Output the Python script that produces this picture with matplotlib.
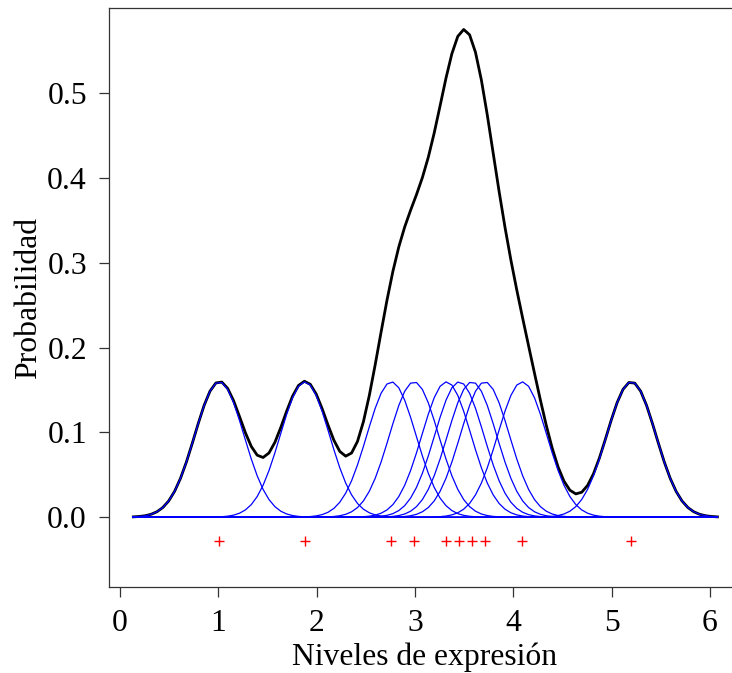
import numpy as np
import matplotlib
matplotlib.use("Agg")
import matplotlib.pyplot as plt

# Observed expression levels
niveles = [1.01, 1.88, 2.76, 2.99, 3.32, 3.45, 3.58, 3.71, 4.09, 5.20]
ancho_banda = 0.25          # Gaussian kernel standard deviation
corte = 3.5                 # grid extends this many bandwidths past the data
n_grid = 100

y_marcas = -0.028           # height at which the observations are marked
x_ticks = [0, 1, 2, 3, 4, 5, 6]
y_ticks = [0.0, 0.1, 0.2, 0.3, 0.4, 0.5]

plt.rcParams["font.family"] = ["Liberation Serif", "DejaVu Serif"]
FS = 22.8

x = np.array(niveles)
n = len(x)
grid = np.linspace(x.min() - corte * ancho_banda, x.max() + corte * ancho_banda, n_grid)


def kernel(centro):
    z = (grid - centro) / ancho_banda
    return np.exp(-0.5 * z ** 2) / (n * ancho_banda * np.sqrt(2 * np.pi))


kernels = [kernel(c) for c in x]
densidad = np.sum(kernels, axis=0)

W, H, DPI = 732, 673, 100
fig = plt.figure(figsize=(W / DPI, H / DPI), dpi=DPI)
left, right = 109.4, 740.3
top, bottom = 8.3, 586.7
ax = fig.add_axes([left / W, 1 - bottom / H, (right - left) / W, (bottom - top) / H])

ax.plot(grid, densidad, color="black", lw=2.0, zorder=2)
for k in kernels:
    ax.plot(grid, k, color="blue", lw=0.9, zorder=3)
ax.plot(x, np.full(n, y_marcas), ls="none", marker="+", color="red",
        markersize=7.5, markeredgewidth=1.0, zorder=4)

ax.set_xlim(-0.108, 6.308)
ax.set_ylim(-0.082, 0.600)
ax.set_xticks(x_ticks)
ax.set_xticklabels([str(t) for t in x_ticks])
ax.set_yticks(y_ticks)
ax.set_yticklabels([f"{t:.1f}" for t in y_ticks])
ax.tick_params(direction="out", length=7.2, width=0.9, labelsize=FS, pad=9,
               color="#333333")
ax.tick_params(axis="y", pad=9)
for s in ax.spines.values():
    s.set_linewidth(0.9)
    s.set_color("#333333")

ax.set_xlabel("Niveles de expresión", fontsize=FS, labelpad=3)
ax.set_ylabel("Probabilidad", fontsize=FS, labelpad=3)

fig.savefig("out.png", dpi=DPI)
